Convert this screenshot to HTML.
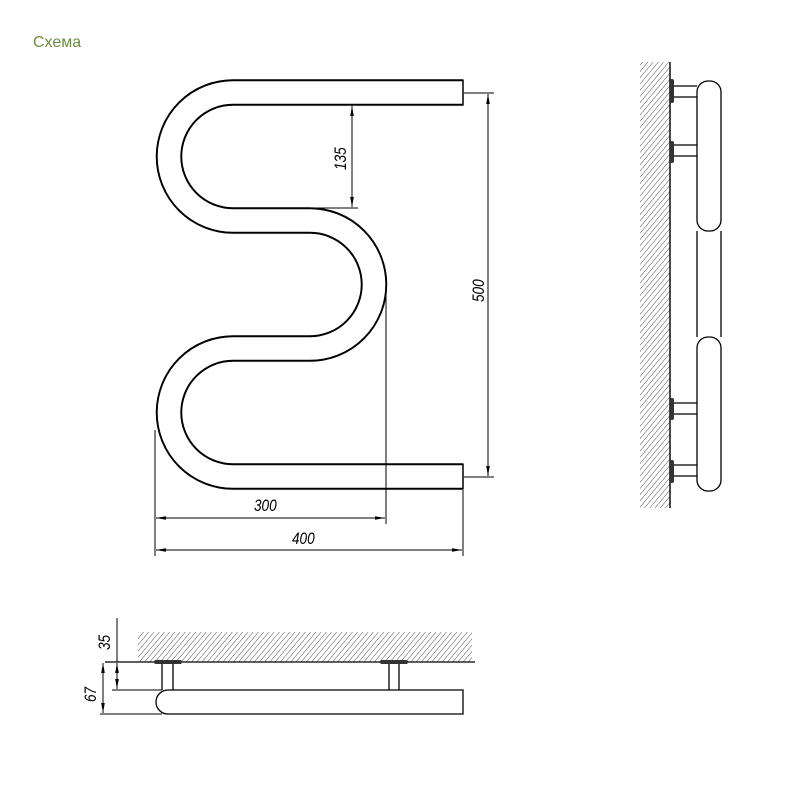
<!DOCTYPE html>
<html><head><meta charset="utf-8"><style>
body{margin:0;background:#fff;}
.t{font-family:"Liberation Sans",sans-serif;}
</style></head><body>
<svg width="800" height="800" viewBox="0 0 800 800" xmlns="http://www.w3.org/2000/svg">
<defs>
<pattern id="h" width="4" height="4" patternUnits="userSpaceOnUse" patternTransform="rotate(40)">
<line x1="0" y1="0" x2="0" y2="4" stroke="#555" stroke-width="1"/>
</pattern>
<marker id="a" markerWidth="10" markerHeight="6" refX="10" refY="3" orient="auto-start-reverse" markerUnits="userSpaceOnUse">
<path d="M0,1.2 L10,3 L0,4.8 Z" fill="#000"/>
</marker>
</defs>
<text x="33" y="47" class="t" font-size="16" fill="#6b8e3e">Схема</text>

<path d="M463,92.5 H233 A64,64 0 0 0 233,220.5 H310 A64,64 0 0 1 310,348.5 H233 A64,64 0 0 0 233,476.5 H463" fill="none" stroke="#000" stroke-width="26.5"/>
<path d="M465,92.5 H233 A64,64 0 0 0 233,220.5 H310 A64,64 0 0 1 310,348.5 H233 A64,64 0 0 0 233,476.5 H465" fill="none" stroke="#fff" stroke-width="22.6"/>
<line x1="463" y1="79.5" x2="463" y2="105.5" stroke="#000" stroke-width="1.5"/>
<line x1="463" y1="463.5" x2="463" y2="489.5" stroke="#000" stroke-width="1.5"/>

<g stroke="#000" stroke-width="1" fill="none">
<line x1="310" y1="208" x2="358" y2="208"/>
<line x1="352" y1="106" x2="352" y2="207" marker-start="url(#a)" marker-end="url(#a)"/>
<line x1="464" y1="93" x2="494" y2="93"/>
<line x1="464" y1="477" x2="494" y2="477"/>
<line x1="488" y1="94" x2="488" y2="476" marker-start="url(#a)" marker-end="url(#a)"/>
<line x1="155" y1="430" x2="155" y2="556"/>
<line x1="386" y1="290" x2="386" y2="524"/>
<line x1="463" y1="490" x2="463" y2="556"/>
<line x1="156" y1="518" x2="385" y2="518" marker-start="url(#a)" marker-end="url(#a)"/>
<line x1="156" y1="550" x2="462" y2="550" marker-start="url(#a)" marker-end="url(#a)"/>
</g>
<g class="t" font-size="17" font-style="italic" fill="#000">
<text transform="translate(346,170) rotate(-90) scale(0.8,1)">135</text>
<text transform="translate(484,302) rotate(-90) scale(0.8,1)">500</text>
<text transform="translate(254,511) scale(0.8,1)">300</text>
<text transform="translate(292,544) scale(0.8,1)">400</text>
</g>

<rect x="640" y="62" width="30" height="446" fill="url(#h)"/>
<line x1="670" y1="62" x2="670" y2="508" stroke="#000" stroke-width="1.4"/>
<g stroke="#000" stroke-width="1.3" fill="#fff">
<rect x="697" y="81" width="24" height="150" rx="11"/>
<rect x="697" y="337" width="24" height="154" rx="11"/>
<line x1="697" y1="231" x2="697" y2="337"/>
<line x1="721" y1="231" x2="721" y2="337"/>
<line x1="672" y1="86" x2="697" y2="86"/><line x1="672" y1="97" x2="697" y2="97"/>
<line x1="672" y1="145" x2="697" y2="145"/><line x1="672" y1="156" x2="697" y2="156"/>
<line x1="672" y1="403" x2="697" y2="403"/><line x1="672" y1="414" x2="697" y2="414"/>
<line x1="672" y1="465" x2="697" y2="465"/><line x1="672" y1="476" x2="697" y2="476"/>
</g>
<g fill="#333">
<rect x="670" y="79" width="4" height="24" rx="2"/>
<rect x="670" y="141" width="4" height="22" rx="2"/>
<rect x="670" y="398" width="4" height="22" rx="2"/>
<rect x="670" y="460" width="4" height="23" rx="2"/>
</g>

<rect x="138" y="632" width="334" height="30" fill="url(#h)"/>
<line x1="105" y1="662" x2="475" y2="662" stroke="#000" stroke-width="1.3"/>
<g stroke="#000" stroke-width="1.3" fill="#fff">
<path d="M168,690 H463 V714 H168 A12,12 0 0 1 168,690 Z"/>
<line x1="162" y1="663" x2="162" y2="690"/><line x1="173" y1="663" x2="173" y2="690"/>
<line x1="389" y1="663" x2="389" y2="690"/><line x1="399" y1="663" x2="399" y2="690"/>
</g>
<rect x="154" y="660" width="28" height="4" rx="2" fill="#333"/>
<rect x="380" y="660" width="28" height="4" rx="2" fill="#333"/>
<g stroke="#000" stroke-width="1" fill="none">
<line x1="112" y1="690" x2="162" y2="690"/>
<line x1="100" y1="714" x2="162" y2="714"/>
<line x1="117" y1="618" x2="117" y2="662"/>
<line x1="117" y1="663" x2="117" y2="689" marker-start="url(#a)" marker-end="url(#a)"/>
<line x1="103" y1="663" x2="103" y2="713" marker-start="url(#a)" marker-end="url(#a)"/>
</g>
<g class="t" font-size="17" font-style="italic" fill="#000">
<text transform="translate(110,650) rotate(-90) scale(0.8,1)">35</text>
<text transform="translate(96,702) rotate(-90) scale(0.8,1)">67</text>
</g>
</svg>
</body></html>
